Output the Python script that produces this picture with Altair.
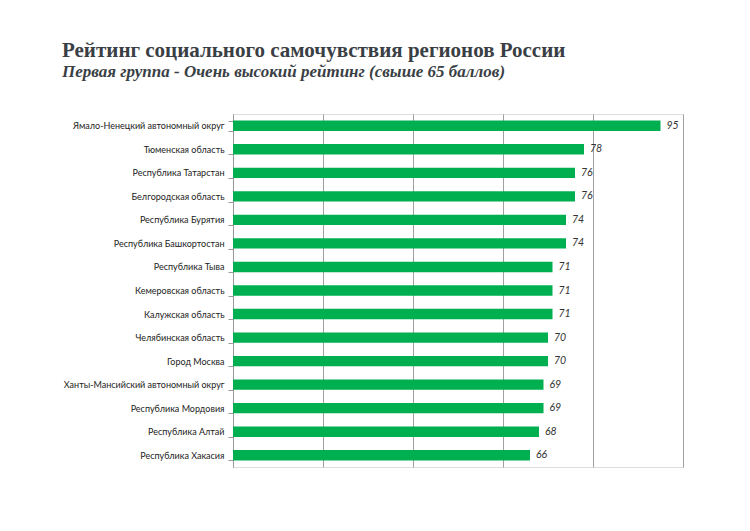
import altair as alt
import pandas as pd

regions = [
    "Ямало-Ненецкий автономный округ",
    "Тюменская область",
    "Республика Татарстан",
    "Белгородская область",
    "Республика Бурятия",
    "Республика Башкортостан",
    "Республика Тыва",
    "Кемеровская область",
    "Калужская область",
    "Челябинская область",
    "Город Москва",
    "Ханты-Мансийский автономный округ",
    "Республика Мордовия",
    "Республика Алтай",
    "Республика Хакасия",
]
scores = [95, 78, 76, 76, 74, 74, 71, 71, 71, 70, 70, 69, 69, 68, 66]
x_ticks = [0, 20, 40, 60, 80, 100]

df = pd.DataFrame({"region": regions, "score": scores})

y_enc = alt.Y(
    "region:N",
    sort=regions,
    scale=alt.Scale(paddingInner=0.56, paddingOuter=0.28),
    axis=alt.Axis(
        title=None,
        labelFont="Lato",
        labelFontSize=9,
        labelColor="#222222",
        labelPadding=4,
        tickBand="extent",
        tickSize=5,
        tickColor="#999999",
        domainColor="#999999",
        labelLimit=220,
    ),
)
x_enc = alt.X(
    "score:Q",
    scale=alt.Scale(domain=[0, 100], nice=False),
    axis=alt.Axis(
        values=x_ticks,
        title=None,
        labels=False,
        ticks=False,
        domain=False,
        grid=True,
        gridColor="#a0a0a0",
        gridWidth=1,
    ),
)

bars = alt.Chart(df).mark_bar(color="#00b050").encode(x=x_enc, y=y_enc)
labels = alt.Chart(df).mark_text(
    align="left", dx=6, font="Lato", fontStyle="italic", fontSize=10.5, color="#333333"
).encode(x="score:Q", y=alt.Y("region:N", sort=regions), text="score:Q")

chart = (
    (bars + labels)
    .properties(
        width=450,
        height=353,
        autosize=alt.AutoSizeParams(type="none"),
        padding={"left": 225, "top": 106, "right": 59, "bottom": 56},
        title=alt.TitleParams(
            text="Рейтинг социального самочувствия регионов России",
            subtitle="Первая группа - Очень высокий рейтинг (свыше 65 баллов)",
            anchor="start",
            frame="group",
            dx=-171,
            offset=30,
            font="Liberation Serif",
            fontSize=21,
            fontWeight="bold",
            color="#3a3f45",
            subtitleFont="Liberation Serif",
            subtitleFontSize=17,
            subtitleFontStyle="italic",
            subtitleFontWeight="bold",
            subtitleColor="#3a3f45",
            subtitlePadding=3,
        ),
    )
    .configure_view(stroke=None)
    .configure(background="white")
)

chart.save("out.html", embed_options={"renderer": "svg", "actions": False})
